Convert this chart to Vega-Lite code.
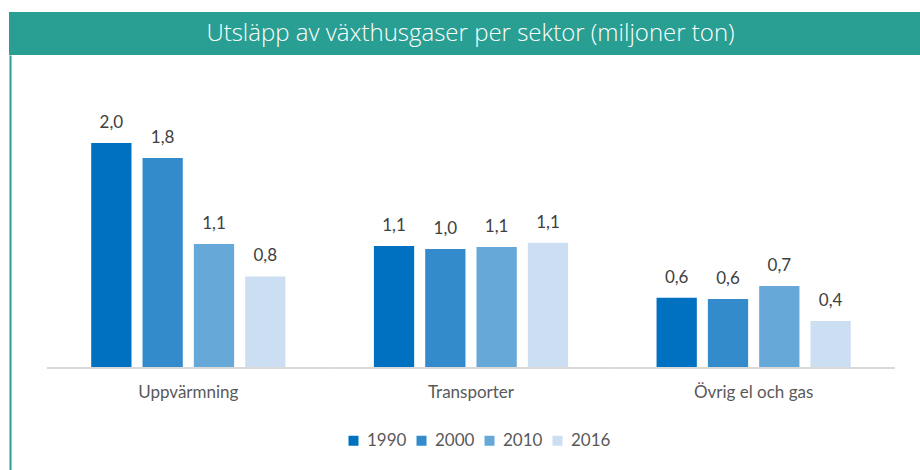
{
  "$schema": "https://vega.github.io/schema/vega-lite/v6.json",
  "padding": {"left": 9, "top": 12, "right": 0, "bottom": 0},
  "spacing": 0,
  "background": "white",
  "config": {
    "font": "Lato",
    "view": {"stroke": null},
    "axisX": {"title": null, "orient": "bottom", "offset": -103, "domain": false, "ticks": false, "grid": false, "labelAngle": 0, "labelAlign": "center", "labelBaseline": "top", "labelFontSize": 17, "labelColor": "#595959", "labelPadding": 17, "labelFont": "Lato"},
    "axisY": {"title": null, "orient": "left", "domain": true, "domainColor": "#299E92", "domainWidth": 2, "ticks": false, "labels": false, "grid": false, "offset": -1},
    "locale": {"number": {"decimal": ",", "thousands": "\u00a0", "grouping": [3], "currency": ["", " kr"]}}
  },
  "datasets": {
    "utslapp": [
      {"sektor": "Uppvärmning", "ar": "1990", "varde": 1.965},
      {"sektor": "Uppvärmning", "ar": "2000", "varde": 1.833},
      {"sektor": "Uppvärmning", "ar": "2010", "varde": 1.079},
      {"sektor": "Uppvärmning", "ar": "2016", "varde": 0.794},
      {"sektor": "Transporter", "ar": "1990", "varde": 1.061},
      {"sektor": "Transporter", "ar": "2000", "varde": 1.035},
      {"sektor": "Transporter", "ar": "2010", "varde": 1.052},
      {"sektor": "Transporter", "ar": "2016", "varde": 1.09},
      {"sektor": "Övrig el och gas", "ar": "1990", "varde": 0.608},
      {"sektor": "Övrig el och gas", "ar": "2000", "varde": 0.596},
      {"sektor": "Övrig el och gas", "ar": "2010", "varde": 0.711},
      {"sektor": "Övrig el och gas", "ar": "2016", "varde": 0.404}
    ],
    "sektorer": [
      {"sektor": "Uppvärmning"},
      {"sektor": "Transporter"},
      {"sektor": "Övrig el och gas"}
    ],
    "rubrik": [
      {"text": "Utsläpp av växthusgaser per sektor (miljoner ton)"}
    ]
  },
  "vconcat": [
    {
      "width": 911,
      "height": 43,
      "view": {"fill": "#299E92", "stroke": null},
      "data": {"name": "rubrik"},
      "mark": {"type": "text", "color": "white", "font": "Open Sans", "fontWeight": 300, "fontSize": 24, "baseline": "middle", "align": "center", "dx": 6},
      "encoding": {"text": {"field": "text"}}
    },
    {
      "width": 911,
      "height": 415,
      "layer": [
        {
          "data": {"name": "sektorer"},
          "mark": {"type": "bar", "color": "#D9D9D9"},
          "encoding": {
            "x": {"field": "sektor", "type": "nominal", "sort": ["Uppvärmning", "Transporter", "Övrig el och gas"],
              "scale": {"type": "band", "paddingInner": 0, "paddingOuter": 0.1114, "align": 0.603}},
            "y": {"datum": 0, "type": "quantitative", "scale": {"domain": [-0.9035, 2.7368], "nice": false, "zero": false}},
            "y2": {"datum": -0.0175}
          }
        },
        {
          "data": {"name": "utslapp"},
          "mark": {"type": "bar"},
          "encoding": {
            "x": {
              "field": "sektor", "type": "nominal",
              "sort": ["Uppvärmning", "Transporter", "Övrig el och gas"],
              "scale": {"type": "band", "paddingInner": 0, "paddingOuter": 0.1114, "align": 0.603}
            },
            "xOffset": {"field": "ar", "type": "nominal", "sort": ["1990", "2000", "2010", "2016"], "scale": {"type": "band", "paddingInner": 0.215, "paddingOuter": 0.862}},
            "y": {
              "field": "varde", "type": "quantitative",
              "scale": {"domain": [-0.9035, 2.7368], "nice": false, "zero": false}
            },
            "y2": {"datum": 0},
            "color": {
              "field": "ar", "type": "nominal",
              "scale": {"domain": ["1990", "2000", "2010", "2016"], "range": ["#0070C0", "#338BCB", "#66A8D8", "#CCDFF2"]},
              "legend": {"title": null, "orient": "none", "legendX": 336, "legendY": 420, "direction": "horizontal", "symbolType": "square", "symbolSize": 100, "symbolStrokeWidth": 0, "labelFontSize": 17, "labelColor": "#595959", "labelFont": "Lato", "labelOffset": 5, "columnPadding": 6, "padding": 0}
            }
          }
        },
        {
          "data": {"name": "utslapp"},
          "mark": {"type": "text", "fontSize": 17, "color": "#404040", "baseline": "alphabetic", "dy": -15, "font": "Lato"},
          "encoding": {
            "x": {"field": "sektor", "type": "nominal", "sort": ["Uppvärmning", "Transporter", "Övrig el och gas"]},
            "xOffset": {"field": "ar", "type": "nominal", "sort": ["1990", "2000", "2010", "2016"]},
            "y": {"field": "varde", "type": "quantitative"},
            "text": {"field": "varde", "type": "quantitative", "format": ".1f"}
          }
        }
      ]
    }
  ]
}
